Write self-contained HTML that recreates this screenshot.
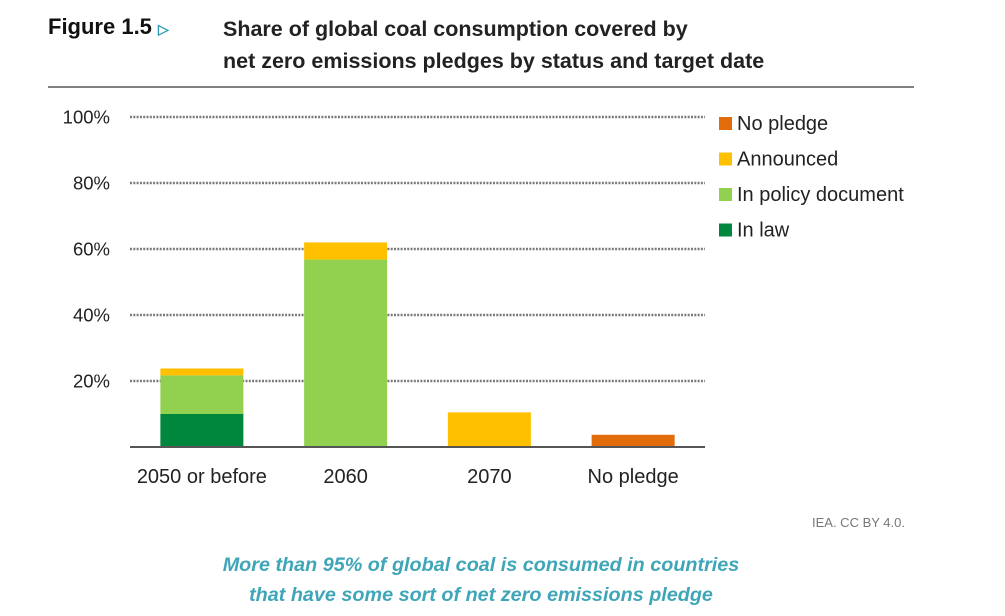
<!DOCTYPE html>
<html><head><meta charset="utf-8"><style>
body{margin:0;width:1005px;height:616px;background:#fff;font-family:"Liberation Sans",sans-serif;overflow:hidden;position:relative}
.t{position:absolute;white-space:nowrap}
</style></head><body>
<div class="t" style="left:48px;top:14px;font-size:22px;font-weight:bold;color:#111">Figure 1.5 <span style="color:#2a9bb0;font-size:14px">&#9655;</span></div>
<div class="t" style="left:223px;top:13px;font-size:21.5px;font-weight:bold;color:#222;line-height:32px">Share of global coal consumption covered by<br>net zero emissions pledges by status and target date</div>
<div style="position:absolute;left:48px;top:86px;width:866px;height:2px;background:#808080"></div>
<svg id="c" width="1005" height="616" style="position:absolute;left:0;top:0"></svg>
<div class="t" style="left:812px;top:515px;font-size:13px;color:#777">IEA. CC BY 4.0.</div>
<div class="t" style="left:0;width:962px;text-align:center;top:550px;font-size:19.8px;font-style:italic;font-weight:bold;color:#3fa6b8;line-height:30px">More than 95% of global coal is consumed in countries<br>that have some sort of net zero emissions pledge</div>
<script>
const categories=["2050 or before","2060","2070","No pledge"];
const inLaw=[10,0,0,0];
const inPolicy=[11.7,56.8,0,0];
const announced=[2.1,5.2,10.5,0];
const noPledge=[0,0,0,3.7];
const ticks=[20,40,60,80,100];
const seriesNames=["No pledge","Announced","In policy document","In law"];
const ns="http://www.w3.org/2000/svg";
const svg=document.getElementById('c');
const x0=130,x1=705,y0=447,pxPer=3.3;
const band=(x1-x0)/categories.length,bw=83;
const y=v=>y0-v*pxPer;
const xc=i=>x0+band*(i+0.5);
function mk(t,a){const e=document.createElementNS(ns,t);for(const k in a)e.setAttribute(k,a[k]);svg.appendChild(e);return e;}
ticks.forEach(t=>{
 const g=mk('line',{x1:x0,x2:x1,y1:y(t),y2:y(t),stroke:'#7a7a7a','stroke-width':2.5,'stroke-dasharray':'2,1.3'});
 
 
 const l=mk('text',{x:110,y:y(t)+6.5,'text-anchor':'end','font-size':18.5,fill:'#222','font-family':'Liberation Sans'});
 l.textContent=t+'%';
 
 
});
const series=[[inLaw,'#00873e','in-law'],[inPolicy,'#92d050','in-policy'],[announced,'#ffc000','announced'],[noPledge,'#e36c0a','no-pledge']];
categories.forEach((c,i)=>{
 let acc=0;
 series.forEach(([arr,col,nm])=>{
  const v=arr[i]; if(v<=0)return;
  const r=mk('rect',{x:xc(i)-bw/2,y:y(acc+v),width:bw,height:v*pxPer,fill:col});
  
  
  acc+=v;
 });
 const t=mk('text',{x:xc(i),y:483,'text-anchor':'middle','font-size':20,fill:'#222','font-family':'Liberation Sans'});
 t.textContent=c;
 
 
});
const ax=mk('line',{x1:x0,x2:x1,y1:y0,y2:y0,stroke:'#555','stroke-width':2});


const lc=['#e36c0a','#ffc000','#92d050','#00873e'];
seriesNames.forEach((n,i)=>{
 const yy=123+i*35.5;
 const r=mk('rect',{x:719,y:yy-6,width:13,height:13,fill:lc[i]});
 
 
 const t=mk('text',{x:737,y:yy+7,'font-size':20,fill:'#222','font-family':'Liberation Sans'});
 t.textContent=n;
 
 
});
</script>
</body></html>
